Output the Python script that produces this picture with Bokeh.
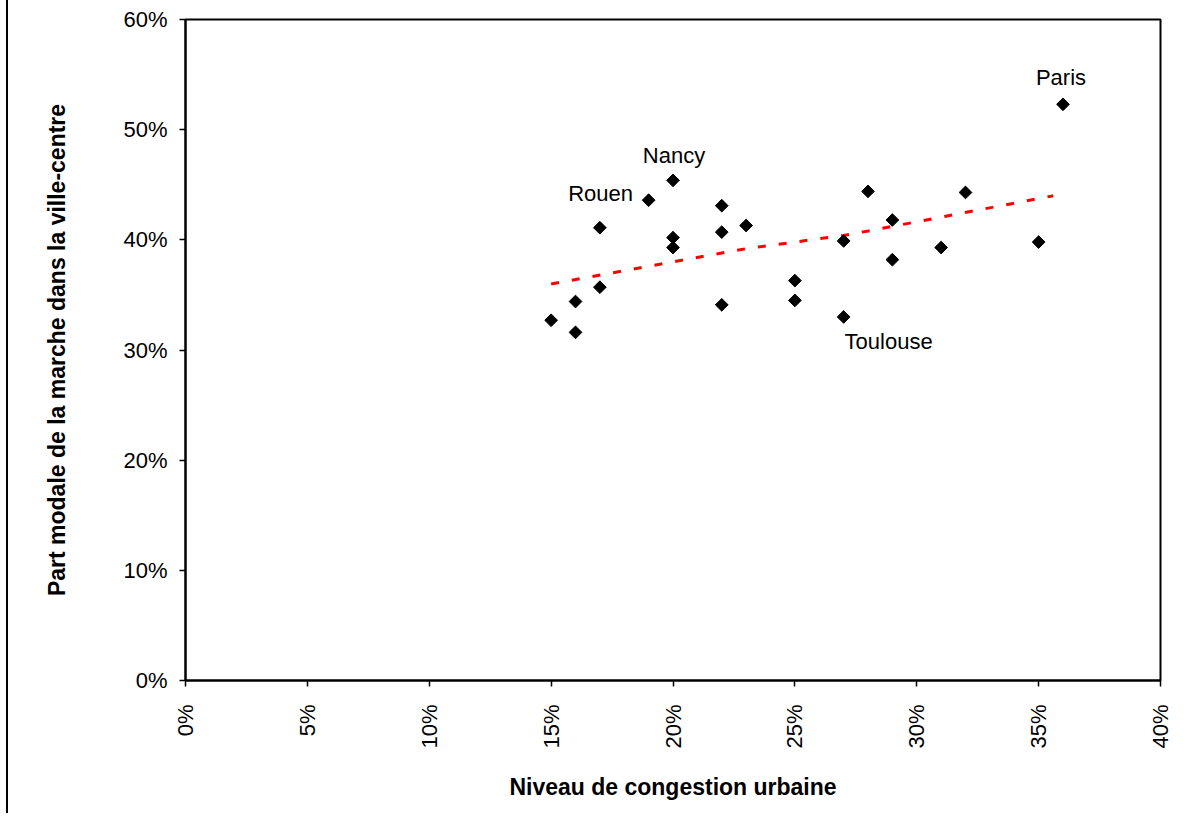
import math
from bokeh.plotting import figure
from bokeh.models import Range1d, FixedTicker, NumeralTickFormatter, ColumnDataSource
from bokeh.core.properties import value
from bokeh.embed import file_html
from bokeh.resources import INLINE

# Data (fractions)
congestion = [0.15, 0.16, 0.16, 0.17, 0.17, 0.19, 0.20, 0.20, 0.20, 0.22, 0.22, 0.22,
              0.23, 0.25, 0.25, 0.27, 0.27, 0.28, 0.29, 0.29, 0.31, 0.32, 0.35, 0.36]
marche = [0.327, 0.344, 0.316, 0.411, 0.357, 0.436, 0.454, 0.402, 0.393, 0.431, 0.407, 0.341,
          0.413, 0.363, 0.345, 0.399, 0.330, 0.444, 0.418, 0.382, 0.393, 0.443, 0.398, 0.523]

trend_x = [0.15, 0.23, 0.27, 0.28, 0.356]
trend_y = [0.360, 0.392, 0.404, 0.408, 0.440]

label_names = ["Paris", "Nancy", "Rouen", "Toulouse"]
label_index = [23, 6, 5, 16]
label_dx = [-2, 1, -48, 45]
label_dy = [-27, -25, -7, 25]

x_ticks = [0, 0.05, 0.10, 0.15, 0.20, 0.25, 0.30, 0.35, 0.40]
y_ticks = [0, 0.1, 0.2, 0.3, 0.4, 0.5, 0.6]

FONT = "Liberation Sans"

p = figure(width=1176, height=813, output_backend="svg", toolbar_location=None,
           x_range=Range1d(0, 0.40), y_range=Range1d(0, 0.60),
           min_border_left=177, min_border_top=19, min_border_right=24, min_border_bottom=133)
p.styles = {"border-left": "2px solid #000", "margin-left": "6px"}
p.background_fill_color = "white"
p.border_fill_color = "white"
p.outline_line_color = "black"
p.outline_line_width = 2
p.grid.visible = False

for ax in (p.xaxis[0], p.yaxis[0]):
    ax.axis_line_width = 2
    ax.axis_line_color = "black"
    ax.major_tick_line_color = "black"
    ax.major_tick_line_width = 1.5
    ax.major_tick_out = 6
    ax.major_tick_in = 0
    ax.minor_tick_line_color = None
    ax.major_label_text_font = FONT
    ax.major_label_text_font_size = "22px"
    ax.major_label_text_color = "black"
    ax.axis_label_text_font = FONT
    ax.axis_label_text_font_size = "23px"
    ax.axis_label_text_font_style = "bold"
    ax.axis_label_text_color = "black"
    ax.formatter = NumeralTickFormatter(format="0%")

p.xaxis.ticker = FixedTicker(ticks=x_ticks)
p.yaxis.ticker = FixedTicker(ticks=y_ticks)
p.xaxis.major_label_orientation = math.pi / 2
p.xaxis.major_label_standoff = 18
p.yaxis.major_label_standoff = 12
p.xaxis.axis_label = "Niveau de congestion urbaine"
p.yaxis.axis_label = "Part modale de la marche dans la ville-centre"
p.xaxis.axis_label_standoff = 22
p.yaxis.axis_label_standoff = 50

p.line(trend_x, trend_y, line_color="#ff0000", line_width=3, line_dash="8 13")

p.scatter(congestion, marche, marker="square", angle=math.pi / 4, size=9,
          fill_color="black", line_color="black")

src = ColumnDataSource(dict(
    x=[congestion[i] for i in label_index],
    y=[marche[i] for i in label_index],
    t=label_names, dx=label_dx, dy=label_dy))
p.text(x="x", y="y", text="t", x_offset="dx", y_offset="dy", source=src,
       text_align="center", text_baseline="middle",
       text_font=value(FONT), text_font_size="22px", text_color="black")

open("out.html", "w").write(file_html(p, INLINE))
